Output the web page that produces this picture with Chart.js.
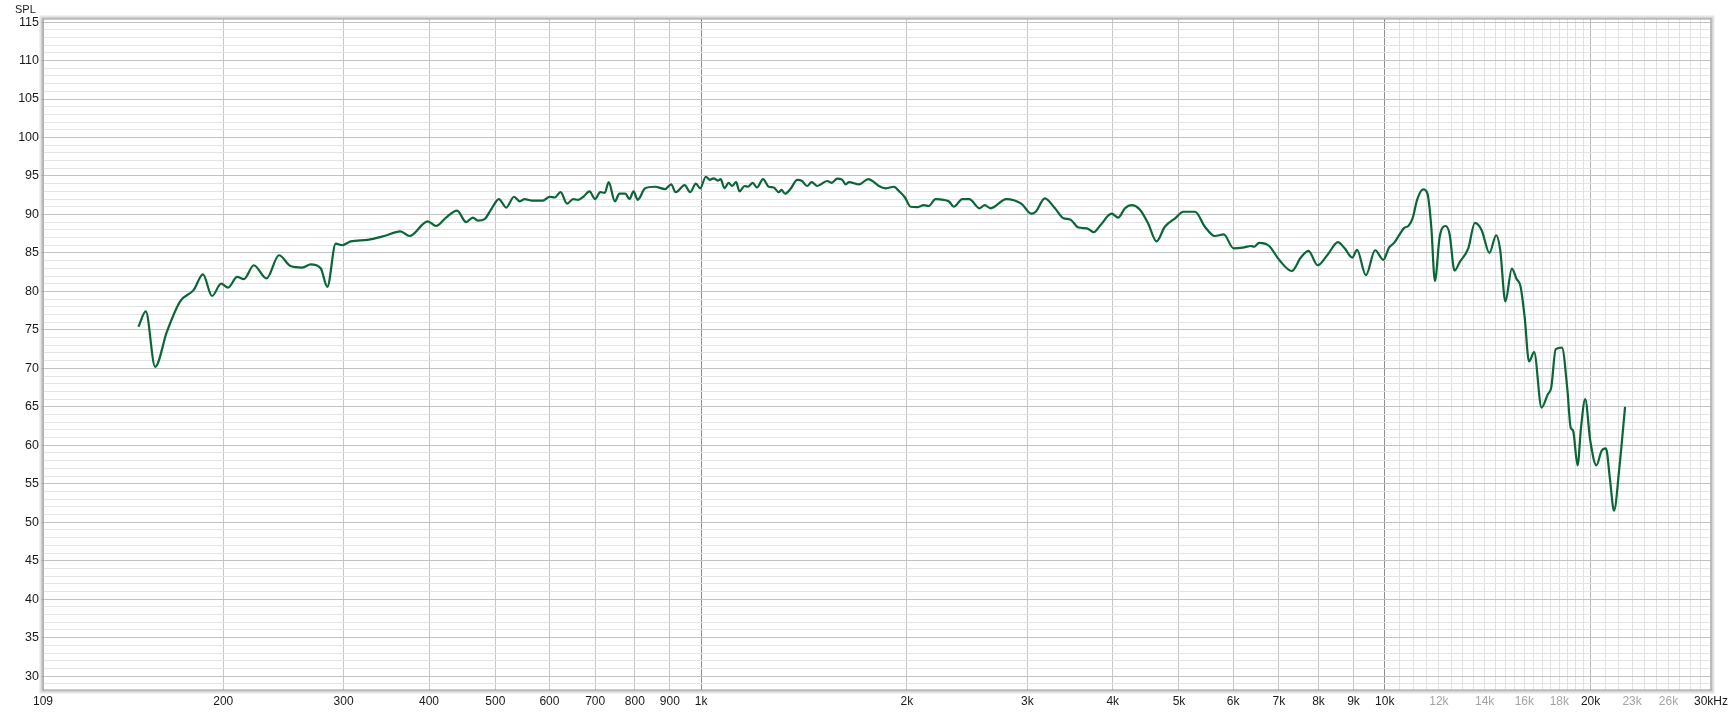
<!DOCTYPE html>
<html>
<head>
<meta charset="utf-8">
<script src="https://cdn.jsdelivr.net/npm/chart.js@4.4.1/dist/chart.umd.min.js"></script>
<style>
  html, body { margin: 0; padding: 0; background: #ffffff; }
  #wrap { position: relative; width: 1732px; height: 715px; }
  #spl {
    position: absolute; left: 15px; top: 3px;
    font: 11px "Liberation Sans", Arial, sans-serif; color: #1a1a1a;
  }
</style>
</head>
<body>
<div id="wrap">
  <canvas id="chart" width="1732" height="715"></canvas>
  <div id="spl">SPL</div>
</div>
<script>

// frequency response (Hz / dB SPL)
const freqs = [
  150.3, 154.1, 159.0, 165.5, 173.0, 181.1, 186.8, 192.6, 198.6, 203.3,
  209.6, 214.4, 221.7, 231.4, 241.3, 250.9, 261.1, 268.5, 277.7, 284.0,
  292.1, 298.7, 307.2, 325.2, 344.0, 363.2, 374.5, 398.2, 409.6, 423.6,
  439.6, 453.3, 463.6, 471.5, 482.3, 493.3, 506, 518.8, 532.5, 543,
  552, 564.6, 587, 600.5, 610.5, 623, 636.6, 650, 661, 672.6,
  686.6, 700, 712, 722.8, 732.6, 748, 759.4, 774.5, 785.9, 796.4,
  808, 828, 856, 885.7, 904, 918, 946, 964, 982.6, 997,
  1016, 1030, 1043, 1058, 1068, 1082, 1097, 1110, 1125, 1138,
  1158, 1171, 1190, 1207, 1232, 1256, 1277, 1299, 1311, 1326,
  1351, 1382, 1405, 1429, 1451, 1479, 1529, 1552, 1582, 1609,
  1627, 1646, 1702, 1756, 1790, 1820, 1863, 1914, 1949, 1987,
  2025, 2070, 2117, 2153, 2202, 2264, 2307, 2342, 2411, 2467,
  2554, 2599, 2651, 2795, 2940, 3041, 3086, 3182, 3293, 3388,
  3466, 3565, 3667, 3751, 3837, 3985, 4075, 4168, 4263, 4384,
  4508, 4636, 4767, 4935, 5075, 5278, 5456, 5641, 5813, 6009,
  6198, 6372, 6441, 6551, 6774, 7006, 7311, 7537, 7734, 7975,
  8253, 8539, 8735, 8966, 9107, 9383, 9680, 9950, 10143, 10318,
  10496, 10677, 10826, 10990, 11155, 11382, 11545, 11695, 11838, 12031,
  12278, 12435, 12650, 12870, 13246, 13546, 13857, 14225, 14553, 14752,
  15008, 15342, 15581, 15797, 16017, 16254, 16537, 16954, 17322, 17516,
  17783, 18160, 18485, 18702, 18856, 19140, 19365, 19638, 19978, 20396,
  20749, 21060, 21347, 21640, 22034, 22462
];

const spl = [
  75.4, 77.4, 70.2, 74.8, 78.7, 80.2, 82.2, 79.4, 81.0, 80.5,
  81.9, 81.6, 83.4, 81.7, 84.7, 83.3, 83.1, 83.5, 83.0, 80.6,
  86.2, 86.0, 86.5, 86.7, 87.2, 87.8, 87.2, 89.1, 88.5, 89.6,
  90.5, 89.0, 89.6, 89.2, 89.4, 90.7, 92.0, 90.9, 92.3, 91.7,
  92.0, 91.8, 91.8, 92.3, 92.2, 92.9, 91.4, 92.0, 91.9, 92.3,
  93.0, 92.0, 92.9, 92.8, 94.2, 91.7, 92.7, 92.7, 92.0, 93.0,
  91.9, 93.4, 93.6, 93.3, 93.9, 92.9, 93.8, 92.9, 94.0, 93.4,
  94.9, 94.5, 94.7, 94.4, 94.6, 93.4, 94.1, 93.7, 94.2, 93.0,
  93.7, 93.6, 94.1, 93.5, 94.6, 93.6, 93.5, 92.9, 93.2, 92.7,
  93.3, 94.5, 94.35, 93.7, 94.2, 93.7, 94.35, 94.1, 94.65, 94.5,
  93.9, 94.2, 93.9, 94.6, 94.2, 93.7, 93.4, 93.6, 93.0, 92.2,
  91.0, 90.96, 91.2, 91.1, 92.0, 91.9, 91.65, 91.0, 92.0, 92.0,
  90.8, 91.2, 90.8, 92.0, 91.4, 90.1, 90.35, 92.1, 90.8, 89.5,
  89.35, 88.3, 88.2, 87.7, 88.6, 90.1, 89.6, 90.8, 91.2, 90.6,
  88.8, 86.5, 88.4, 89.5, 90.35, 90.35, 88.4, 87.2, 87.4, 85.6,
  85.7, 85.9, 85.8, 86.3, 85.9, 84.1, 82.65, 84.4, 85.26, 83.4,
  84.8, 86.4, 85.6, 84.4, 85.4, 82.1, 85.35, 84.1, 85.7, 86.3,
  87.3, 88.26, 88.5, 89.6, 91.96, 93.26, 92.7, 88.4, 81.35, 87.1,
  88.5, 87.5, 82.7, 83.8, 85.6, 88.9, 87.96, 85.0, 87.3, 85.35,
  78.7, 82.96, 81.65, 80.65, 76.65, 70.9, 72.1, 64.9, 66.65, 67.5,
  72.5, 72.7, 67.5, 62.3, 61.9, 57.4, 62.3, 66.0, 60.6, 57.4,
  59.26, 59.6, 55.6, 51.5, 57.1, 65.0
];

// x axis ticks: labelled ones and the extra unlabelled grid lines above 10k
const xLabelFreqs = [
  109, 200, 300, 400, 500, 600, 700, 800, 900, 1000,
  2000, 3000, 4000, 5000, 6000, 7000, 8000, 9000, 10000,
  12000, 14000, 16000, 18000, 20000, 23000, 26000, 30000
];
const xLabelTexts = [
  "109", "200", "300", "400", "500", "600", "700", "800", "900", "1k",
  "2k", "3k", "4k", "5k", "6k", "7k", "8k", "9k", "10k",
  "12k", "14k", "16k", "18k", "20k", "23k", "26k", "30kHz"
];
const xGreyLabels = [12000, 14000, 16000, 18000, 23000, 26000];
const xMinorFreqs = [
  10500, 11000, 11500, 12500, 13000, 13500, 14500, 15000, 15500,
  16500, 17000, 17500, 18500, 19000, 19500,
  21000, 22000, 24000, 25000, 27000, 28000, 29000
];

// y axis: labelled every 5 dB, grid every 1 dB
const yLabelValues = [30, 35, 40, 45, 50, 55, 60, 65, 70, 75, 80, 85, 90, 95, 100, 105, 110, 115];
const yMin = 28.2;
const yMax = 115.4;

const FONT = { family: "'Liberation Sans', Arial, sans-serif", size: 12 };

const xTicks = xLabelFreqs.concat(xMinorFreqs).sort((a, b) => a - b);
const yTicks = [];
for (let v = 29; v <= 115; v++) yTicks.push(v);

function xGridColor(v) {
  if (v === 1000 || v === 10000) return "#8e8e8e";
  if (v === 20000) return "#b8b8b8";
  if (v < 10000) return "#c6c6c6";
  return "#e2e2e2";
}

const framePlugin = {
  id: "frame",
  beforeDraw(chart) {
    const c = chart.ctx;
    c.save();
    c.fillStyle = "#ffffff";
    c.fillRect(0, 0, chart.width, chart.height);
    c.restore();
  },
  afterDraw(chart) {
    const a = chart.chartArea;
    const c = chart.ctx;
    c.save();
    c.strokeStyle = "#e4e4e4";
    c.lineWidth = 2;
    c.strokeRect(a.left - 2.5, a.top - 2.5, a.right - a.left + 5, a.bottom - a.top + 5);
    c.strokeStyle = "#b4b4b4";
    c.lineWidth = 1;
    c.strokeRect(a.left - 1, a.top - 1, a.right - a.left + 2, a.bottom - a.top + 2);
    c.strokeStyle = "#9a9a9a";
    c.strokeRect(a.left, a.top, a.right - a.left, a.bottom - a.top);
    c.restore();
  }
};

new Chart(document.getElementById("chart"), {
  type: "line",
  data: {
    datasets: [{
      label: "SPL",
      data: freqs.map((f, i) => ({ x: f, y: spl[i] })),
      borderColor: "#0a6537",
      borderWidth: 2.2,
      pointRadius: 0,
      fill: false,
      cubicInterpolationMode: "monotone"
    }]
  },
  options: {
    responsive: false,
    animation: false,
    devicePixelRatio: 1,
    layout: { padding: { top: 19, right: 21, left: 0, bottom: 0 } },
    plugins: {
      legend: { display: false },
      tooltip: { enabled: false }
    },
    scales: {
      x: {
        type: "logarithmic",
        min: 109,
        max: 30000,
        afterBuildTicks: (scale) => {
          scale.ticks = xTicks.map(v => ({ value: v }));
        },
        afterFit: (scale) => { scale.height = 25; },
        ticks: {
          autoSkip: false,
          maxRotation: 0,
          padding: 4,
          font: FONT,
          color: (ctx) => xGreyLabels.includes(ctx.tick.value) ? "#a4a4a4" : "#1a1a1a",
          callback: (v) => {
            const i = xLabelFreqs.indexOf(v);
            return i >= 0 ? xLabelTexts[i] : "";
          }
        },
        grid: {
          drawTicks: false,
          color: (ctx) => ctx.tick ? xGridColor(ctx.tick.value) : "#c6c6c6",
          lineWidth: 1
        },
        border: { display: false }
      },
      y: {
        type: "linear",
        min: yMin,
        max: yMax,
        afterBuildTicks: (scale) => {
          scale.ticks = yTicks.map(v => ({ value: v }));
        },
        afterFit: (scale) => { scale.width = 43; },
        ticks: {
          autoSkip: false,
          padding: 1,
          font: { family: FONT.family, size: 12.5 },
          color: "#1a1a1a",
          callback: (v) => yLabelValues.includes(v) ? String(v) : ""
        },
        grid: {
          drawTicks: true,
          tickLength: 3,
          color: (ctx) => (ctx.tick && ctx.tick.value % 5 === 0) ? "#c2c2c2" : "#e4e4e4",
          tickColor: (ctx) => (ctx.tick && ctx.tick.value % 5 === 0) ? "#9a9a9a" : "rgba(0,0,0,0)"
        },
        border: { display: false }
      }
    }
  },
  plugins: [framePlugin]
});

</script>
</body>
</html>
